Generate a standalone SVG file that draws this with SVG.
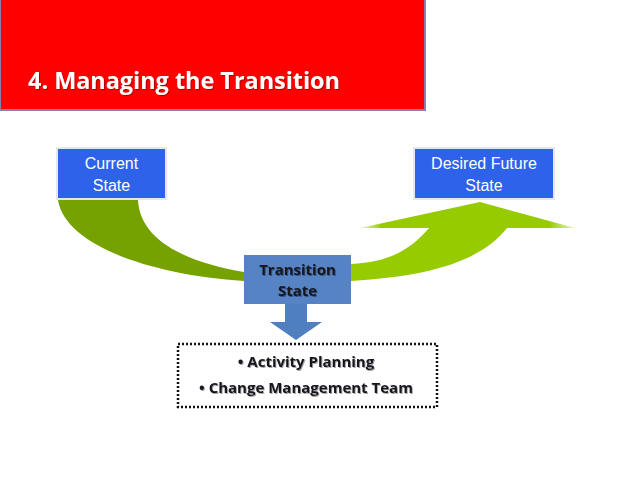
<svg xmlns="http://www.w3.org/2000/svg" width="638" height="479" viewBox="0 0 638 479">
<defs>
<style>
.wt{font-family:"Liberation Sans",Arial,sans-serif;font-size:16px;fill:#ffffff;text-anchor:middle}
.bt{font-family:"Open Sans","Liberation Sans",sans-serif;font-weight:bold;fill:#15151f;text-anchor:middle}
.box{fill:#2f62ea;stroke:#e6e6ee;stroke-width:2}
</style>
<linearGradient id="gr" gradientUnits="userSpaceOnUse" x1="360" y1="0" x2="575" y2="0">
<stop offset="0" stop-color="#a6d400" stop-opacity="0.25"/>
<stop offset="0.1" stop-color="#96cb00"/>
<stop offset="0.88" stop-color="#96cb00"/>
<stop offset="1" stop-color="#a6d400" stop-opacity="0.25"/>
</linearGradient>
<filter id="sh" x="-10%" y="-10%" width="130%" height="140%">
<feDropShadow dx="1" dy="1" stdDeviation="0.6" flood-color="#000" flood-opacity="0.35"/>
</filter>
</defs>
<rect width="638" height="479" fill="#ffffff"/>
<g id="header">
<rect x="0" y="-2" width="425" height="112" fill="#ff0000" stroke="#8a7fa8" stroke-width="2"/>
<text x="28" y="89" font-family="Open Sans, Liberation Sans, sans-serif" font-weight="bold" font-size="23" fill="#ffffff" textLength="312" lengthAdjust="spacingAndGlyphs" filter="url(#sh)">4. Managing the Transition</text>
</g>
<g id="connectors">
<path d="M58,200 C65,245 150,275 244,281 L244,272 C185,262 140,240 138,200 Z" fill="#76a200"/>
<path d="M351,281 C430,276 480,262 508,227 L430,227 C410,250 390,262 351,264 Z" fill="#96cb00"/>
<path d="M575,228 L480,202 L360,228 Z" fill="url(#gr)"/>
<path d="M285,304 L307,304 L307,322 L322,322 L296,340 L270,322 L285,322 Z" fill="#4f7fc0"/>
</g>
<g id="current">
<rect class="box" x="57" y="148" width="109" height="51"/>
<text class="wt" x="111.5" y="169">Current</text>
<text class="wt" x="111.5" y="191">State</text>
</g>
<g id="desired">
<rect class="box" x="414" y="148" width="140" height="51"/>
<text class="wt" x="484" y="169">Desired Future</text>
<text class="wt" x="484" y="191">State</text>
</g>
<g id="transition">
<rect x="244" y="255" width="107" height="49" fill="#5583c3"/>
<text class="bt" x="297.5" y="275" font-size="15" filter="url(#sh)">Transition</text>
<text class="bt" x="297.5" y="296" font-size="15" filter="url(#sh)">State</text>
</g>
<g id="activities">
<rect x="178" y="344" width="259" height="63" fill="none" stroke="#111" stroke-width="2.5" stroke-dasharray="2 2"/>
<text class="bt" x="306" y="367" font-size="15" filter="url(#sh)">• Activity Planning</text>
<text class="bt" x="306" y="393" font-size="15" filter="url(#sh)">• Change Management Team</text>
</g>
</svg>
